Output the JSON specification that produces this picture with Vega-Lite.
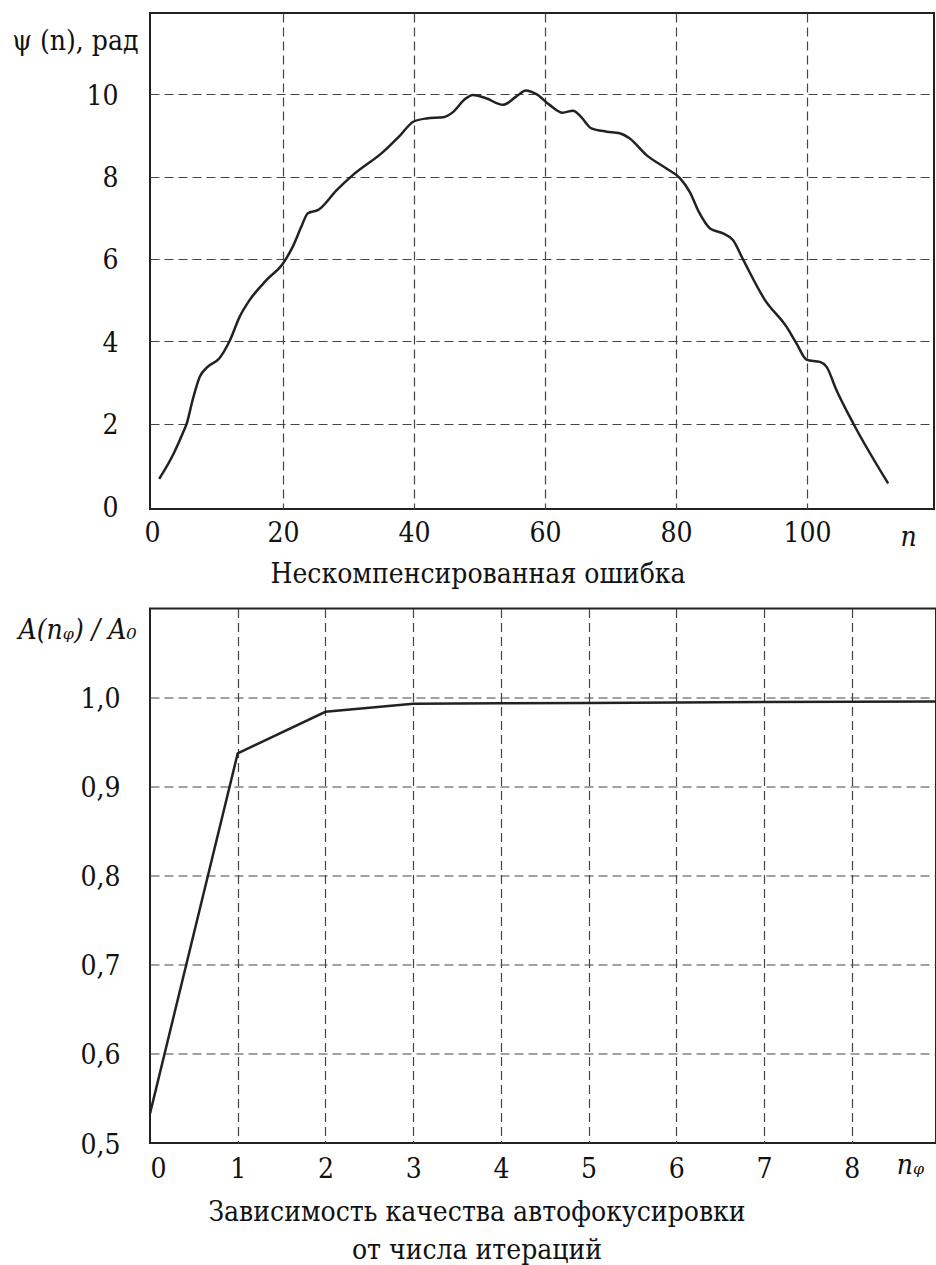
{
  "$schema": "https://vega.github.io/schema/vega-lite/v6.json",
  "padding": {"left": 10, "top": 12, "right": 0, "bottom": 0},
  "spacing": 99.5,
  "bounds": "flush",
  "config": {
    "font": "DejaVu Serif Condensed",
    "view": {"stroke": "#222", "strokeWidth": 2},
    "axis": {
      "labelFont": "DejaVu Serif Condensed", "labelFontSize": 28, "labelColor": "#111",
      "titleFont": "DejaVu Serif Condensed", "titleFontSize": 28, "titleColor": "#111", "titleFontWeight": "normal",
      "domain": false, "ticks": false, "tickSize": 0,
      "gridColor": "#444", "gridDash": [9, 5], "gridWidth": 1.2
    },
    "title": {"font": "DejaVu Serif Condensed", "fontSize": 28, "fontWeight": "normal", "color": "#111"}
  },
  "vconcat": [
    {
      "width": 784,
      "height": 496,
      "title": {"text": "Нескомпенсированная ошибка", "orient": "bottom", "anchor": "middle", "dx": -64, "offset": 10},
      "data": {"values": [
        {"n": 1.1, "psi": 0.66}, {"n": 3.2, "psi": 1.24}, {"n": 4.7, "psi": 1.77}, {"n": 5.3, "psi": 2.0},
        {"n": 6.2, "psi": 2.57}, {"n": 7.3, "psi": 3.14}, {"n": 8.5, "psi": 3.38}, {"n": 10.3, "psi": 3.59},
        {"n": 11.8, "psi": 3.99}, {"n": 13.4, "psi": 4.6}, {"n": 14.9, "psi": 5.0}, {"n": 17.5, "psi": 5.49},
        {"n": 20, "psi": 5.89}, {"n": 21.5, "psi": 6.3}, {"n": 22.8, "psi": 6.78}, {"n": 23.8, "psi": 7.11},
        {"n": 25.4, "psi": 7.19}, {"n": 28.2, "psi": 7.67}, {"n": 30.7, "psi": 8.04}, {"n": 35.3, "psi": 8.6},
        {"n": 37.9, "psi": 9.0}, {"n": 39.9, "psi": 9.33}, {"n": 41.9, "psi": 9.41}, {"n": 44.5, "psi": 9.44},
        {"n": 46, "psi": 9.57}, {"n": 47.8, "psi": 9.88}, {"n": 49, "psi": 9.98}, {"n": 51, "psi": 9.9},
        {"n": 53.6, "psi": 9.74}, {"n": 55.6, "psi": 9.94}, {"n": 57.1, "psi": 10.09}, {"n": 58.7, "psi": 10.0},
        {"n": 60.7, "psi": 9.74}, {"n": 62.7, "psi": 9.55}, {"n": 64.3, "psi": 9.6}, {"n": 65.5, "psi": 9.45},
        {"n": 67.1, "psi": 9.17}, {"n": 69.4, "psi": 9.09}, {"n": 71.4, "psi": 9.05}, {"n": 72.9, "psi": 8.93},
        {"n": 75.5, "psi": 8.52}, {"n": 78.5, "psi": 8.2}, {"n": 80.6, "psi": 7.96}, {"n": 82.1, "psi": 7.63},
        {"n": 83.6, "psi": 7.11}, {"n": 85.2, "psi": 6.74}, {"n": 87.2, "psi": 6.62}, {"n": 88.7, "psi": 6.46},
        {"n": 90.3, "psi": 5.97}, {"n": 93.6, "psi": 5.0}, {"n": 96.9, "psi": 4.35}, {"n": 98.4, "psi": 3.95},
        {"n": 100, "psi": 3.55}, {"n": 102, "psi": 3.5}, {"n": 103, "psi": 3.38}, {"n": 104.5, "psi": 2.82},
        {"n": 107.1, "psi": 2.0}, {"n": 112.4, "psi": 0.55}
      ]},
      "mark": {"type": "line", "interpolate": "monotone", "color": "#222", "strokeWidth": 2.5},
      "encoding": {
        "x": {
          "field": "n", "type": "quantitative",
          "scale": {"domain": [-0.3, 119.4], "nice": false, "zero": false},
          "axis": {
            "values": [0, 20, 40, 60, 80, 100],
            "labelPadding": 32, "labelBaseline": "alphabetic",
            "title": "n", "titleFontStyle": "italic", "titleX": 758, "titleY": 36,
            "titleAlign": "center", "titleBaseline": "alphabetic",
            "gridOpacity": {"condition": {"test": "datum.value == 0", "value": 0}, "value": 1}
          }
        },
        "y": {
          "field": "psi", "type": "quantitative",
          "scale": {"domain": [-0.07, 11.97], "nice": false, "zero": false},
          "axis": {
            "values": [0, 2, 4, 6, 8, 10],
            "labelPadding": 32, "labelOffset": 2,
            "title": "ψ (n), рад", "titleAngle": 0, "titleX": -12, "titleY": 36,
            "titleAlign": "right", "titleBaseline": "alphabetic",
            "gridOpacity": {"condition": {"test": "datum.value == 0", "value": 0}, "value": 1}
          }
        }
      }
    },
    {
      "width": 786,
      "height": 534.5,
      "title": {"text": ["Зависимость качества автофокусировки", "от числа итераций"], "orient": "bottom", "anchor": "middle", "dx": -66, "offset": 16, "lineHeight": 38},
      "data": {"values": [
        {"k": 0, "a": 0.533}, {"k": 1, "a": 0.9375}, {"k": 2, "a": 0.984}, {"k": 3, "a": 0.993},
        {"k": 4, "a": 0.9935}, {"k": 5, "a": 0.994}, {"k": 6, "a": 0.9945}, {"k": 7, "a": 0.995},
        {"k": 8, "a": 0.9953}, {"k": 8.96, "a": 0.9955}
      ]},
      "mark": {"type": "line", "color": "#222", "strokeWidth": 2.5},
      "encoding": {
        "x": {
          "field": "k", "type": "quantitative",
          "scale": {"domain": [0, 8.96], "nice": false, "zero": false},
          "axis": {
            "values": [0, 1, 2, 3, 4, 5, 6, 7, 8],
            "labelPadding": 34, "labelBaseline": "alphabetic",
            "title": "nᵩ", "titleFontStyle": "italic", "titleX": 760, "titleY": 30,
            "titleAlign": "center", "titleBaseline": "alphabetic",
            "gridOpacity": {"condition": {"test": "datum.value == 0", "value": 0}, "value": 1}
          }
        },
        "y": {
          "field": "a", "type": "quantitative",
          "scale": {"domain": [0.5, 1.1], "nice": false, "zero": false},
          "axis": {
            "values": [0.5, 0.6, 0.7, 0.8, 0.9, 1.0],
            "labelExpr": "replace(format(datum.value, '.1f'), '.', ',')",
            "labelPadding": 30, "labelOffset": 2,
            "title": "A(nᵩ) / A₀", "titleFontStyle": "italic", "titleAngle": 0, "titleX": -14, "titleY": 30,
            "titleAlign": "right", "titleBaseline": "alphabetic",
            "gridOpacity": {"condition": {"test": "datum.value == 0.5", "value": 0}, "value": 1}
          }
        }
      }
    }
  ]
}
